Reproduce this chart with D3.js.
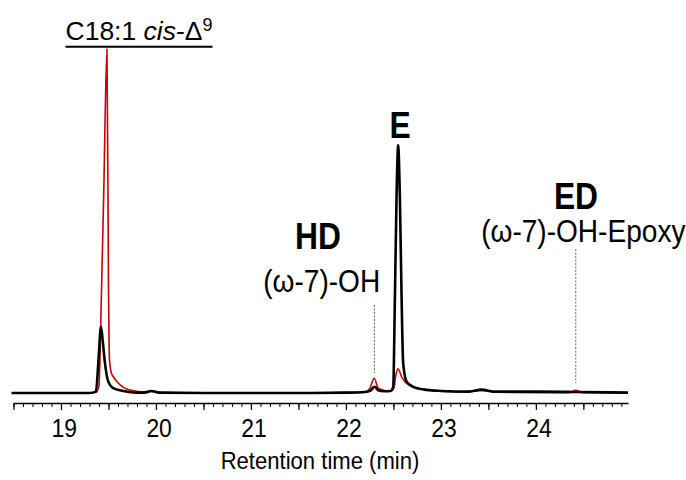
<!DOCTYPE html>
<html>
<head>
<meta charset="utf-8">
<script src="https://cdn.jsdelivr.net/npm/d3@7"></script>
<style>
  body { margin: 0; background: #fff; }
  svg { display: block; }
  text { font-family: "Liberation Sans", Arial, sans-serif; fill: #000; }
</style>
</head>
<body>
<script>
// retention time (min), detector signal (red peak apex = 100)
var redTrace = [
  [18.48, 0], [18.8, 0], [19.1, 0], [19.3, 0], [19.37, 0.2], [19.40, 2],
  [19.41, 9.6], [19.42, 21.8], [19.45, 58], [19.484, 100], [19.50, 32],
  [19.51, 10], [19.53, 5.8], [19.55, 4.8], [19.6, 3.0], [19.65, 1.8],
  [19.7, 1.1], [19.78, 0.6], [19.85, 0.3], [19.95, 0.5], [20.05, 0.1],
  [20.5, 0], [21.0, 0], [21.5, 0], [22.0, 0.1], [22.2, 0.2], [22.253, 1.4],
  [22.298, 4.3], [22.34, 1.4], [22.39, 0.9], [22.44, 0.5], [22.47, 0.5],
  [22.505, 1.4], [22.523, 4.7], [22.547, 7], [22.593, 4.3], [22.663, 2.3],
  [22.768, 1.4], [22.874, 0.9], [23.0, 0.5], [23.2, 0.3], [23.43, 0.7],
  [23.6, 0.2], [24.0, 0.1], [24.35, 0.1], [24.42, 0.8], [24.5, 0.1], [24.97, 0]
];
var blackTrace = [
  [18.48, 0], [19.0, 0], [19.3, 0], [19.368, 0.4], [19.393, 8.7], [19.421, 19.3],
  [19.44, 15], [19.463, 8.7], [19.498, 3.3], [19.55, 1.4], [19.656, 0.6],
  [19.797, 0.1], [19.88, 0.1], [19.955, 0.6], [20.03, 0.1], [20.5, 0],
  [21.0, 0], [21.5, 0], [22.0, 0.1], [22.2, 0.3], [22.26, 0.7], [22.30, 1.8],
  [22.34, 0.8], [22.40, 0.5], [22.47, 0.6], [22.498, 1.8], [22.516, 28],
  [22.533, 57], [22.55, 72], [22.568, 57], [22.586, 28], [22.603, 8.6],
  [22.639, 3.3], [22.708, 1.8], [22.849, 0.9], [23.0, 0.6], [23.3, 0.4],
  [23.43, 1.0], [23.55, 0.4], [24.0, 0.4], [24.42, 0.3], [24.97, 0.1]
];
var xDomain = [18.5, 24.97];
var tickLabels = [19, 20, 21, 22, 23, 24];
var peakNames = ["HD", "E", "ED"];
var peakTimes = [22.30, 22.55, 24.42];
var peakSubs = ["(ω-7)-OH", "", "(ω-7)-OH-Epoxy"];

var width = 686, height = 480;
var svg = d3.select('body').append('svg').attr('width', width).attr('height', height);
svg.append('rect').attr('width', width).attr('height', height).attr('fill', '#fff');

var x = d3.scaleLinear().domain(xDomain).range([13.5, 628]);
var y = d3.scaleLinear().domain([0, 100]).range([393, 49]);
var axisY = 403;

// text squeezed a bit sideways, like the narrow font of the original
function label(px, py, str, size, weight, sx) {
  return svg.append('text')
    .attr('transform', 'translate(' + px + ',' + py + ') scale(' + sx + ',1)')
    .attr('text-anchor', 'middle')
    .style('font-size', size + 'px')
    .style('font-weight', weight)
    .text(str);
}

// axis
var minorTicks = d3.range(185, 250).map(function(d) { return d / 10; });
var halfTicks = d3.range(37, 50).map(function(d) { return d / 2; });

svg.append('g')
  .attr('transform', 'translate(0,' + axisY + ')')
  .call(d3.axisBottom(x).tickValues(minorTicks).tickSize(4).tickSizeOuter(0).tickFormat(''))
  .call(function(g) { g.select('.domain').remove(); });

var ax = svg.append('g')
  .attr('transform', 'translate(0,' + axisY + ')')
  .call(d3.axisBottom(x).tickValues(halfTicks).tickSize(7).tickSizeOuter(0)
    .tickFormat(function(d) { return tickLabels.indexOf(d) >= 0 ? d : ''; }));
ax.select('.domain').attr('stroke-width', 1.6);
ax.selectAll('.tick line').attr('stroke-width', 1.2);
svg.selectAll('.tick line').attr('stroke', '#000');
ax.selectAll('.tick text')
  .attr('y', 34).attr('dy', 0).attr('dx', 3)
  .attr('transform', 'scale(0.88,1)')
  .attr('font-family', null)
  .style('font-size', '26px')
  .attr('fill', '#000');

label(320, 469, 'Retention time (min)', 24, 'normal', 0.92);

// dashed markers for HD and ED
[0, 2].forEach(function(i) {
  var y1 = i === 0 ? 305 : 249;
  svg.append('line')
    .attr('x1', x(peakTimes[i])).attr('x2', x(peakTimes[i]))
    .attr('y1', y1).attr('y2', i === 0 ? 373 : 383)
    .attr('stroke', '#555').attr('stroke-width', 0.9)
    .attr('stroke-dasharray', '2,1.5');
});

// traces
var line = d3.line()
  .x(function(d) { return x(d[0]); })
  .y(function(d) { return y(d[1]); })
  .curve(d3.curveMonotoneX);

svg.append('path').datum(redTrace)
  .attr('d', line).attr('fill', 'none')
  .attr('stroke', '#c80000').attr('stroke-width', 1.6).attr('stroke-linejoin', 'round');
svg.append('path').datum(blackTrace)
  .attr('d', line).attr('fill', 'none')
  .attr('stroke', '#000').attr('stroke-width', 2.6).attr('stroke-linejoin', 'round');

// peak labels
label(318, 249.3, peakNames[0], 37, 'bold', 0.86);
label(321.7, 291.7, peakSubs[0], 30.5, 'normal', 0.92);
label(400, 138.3, peakNames[1], 37, 'bold', 0.86);
label(576, 209.3, peakNames[2], 37, 'bold', 0.86);
label(583.3, 241.7, peakSubs[2], 30.5, 'normal', 0.92);

// C18:1 label with underline
var topLabel = svg.append('g').attr('transform', 'translate(139,40)');
var t = topLabel.append('text').attr('text-anchor', 'middle').style('font-size', '26.5px');
t.append('tspan').text('C18:1 ');
t.append('tspan').style('font-style', 'italic').text('cis');
t.append('tspan').text('-Δ');
t.append('tspan').attr('dy', -9).style('font-size', '18px').text('9');
var bb = t.node().getBBox();
topLabel.append('line')
  .attr('x1', bb.x).attr('x2', bb.x + bb.width)
  .attr('y1', 6.7).attr('y2', 6.7)
  .attr('stroke', '#000').attr('stroke-width', 2);
</script>
</body>
</html>
